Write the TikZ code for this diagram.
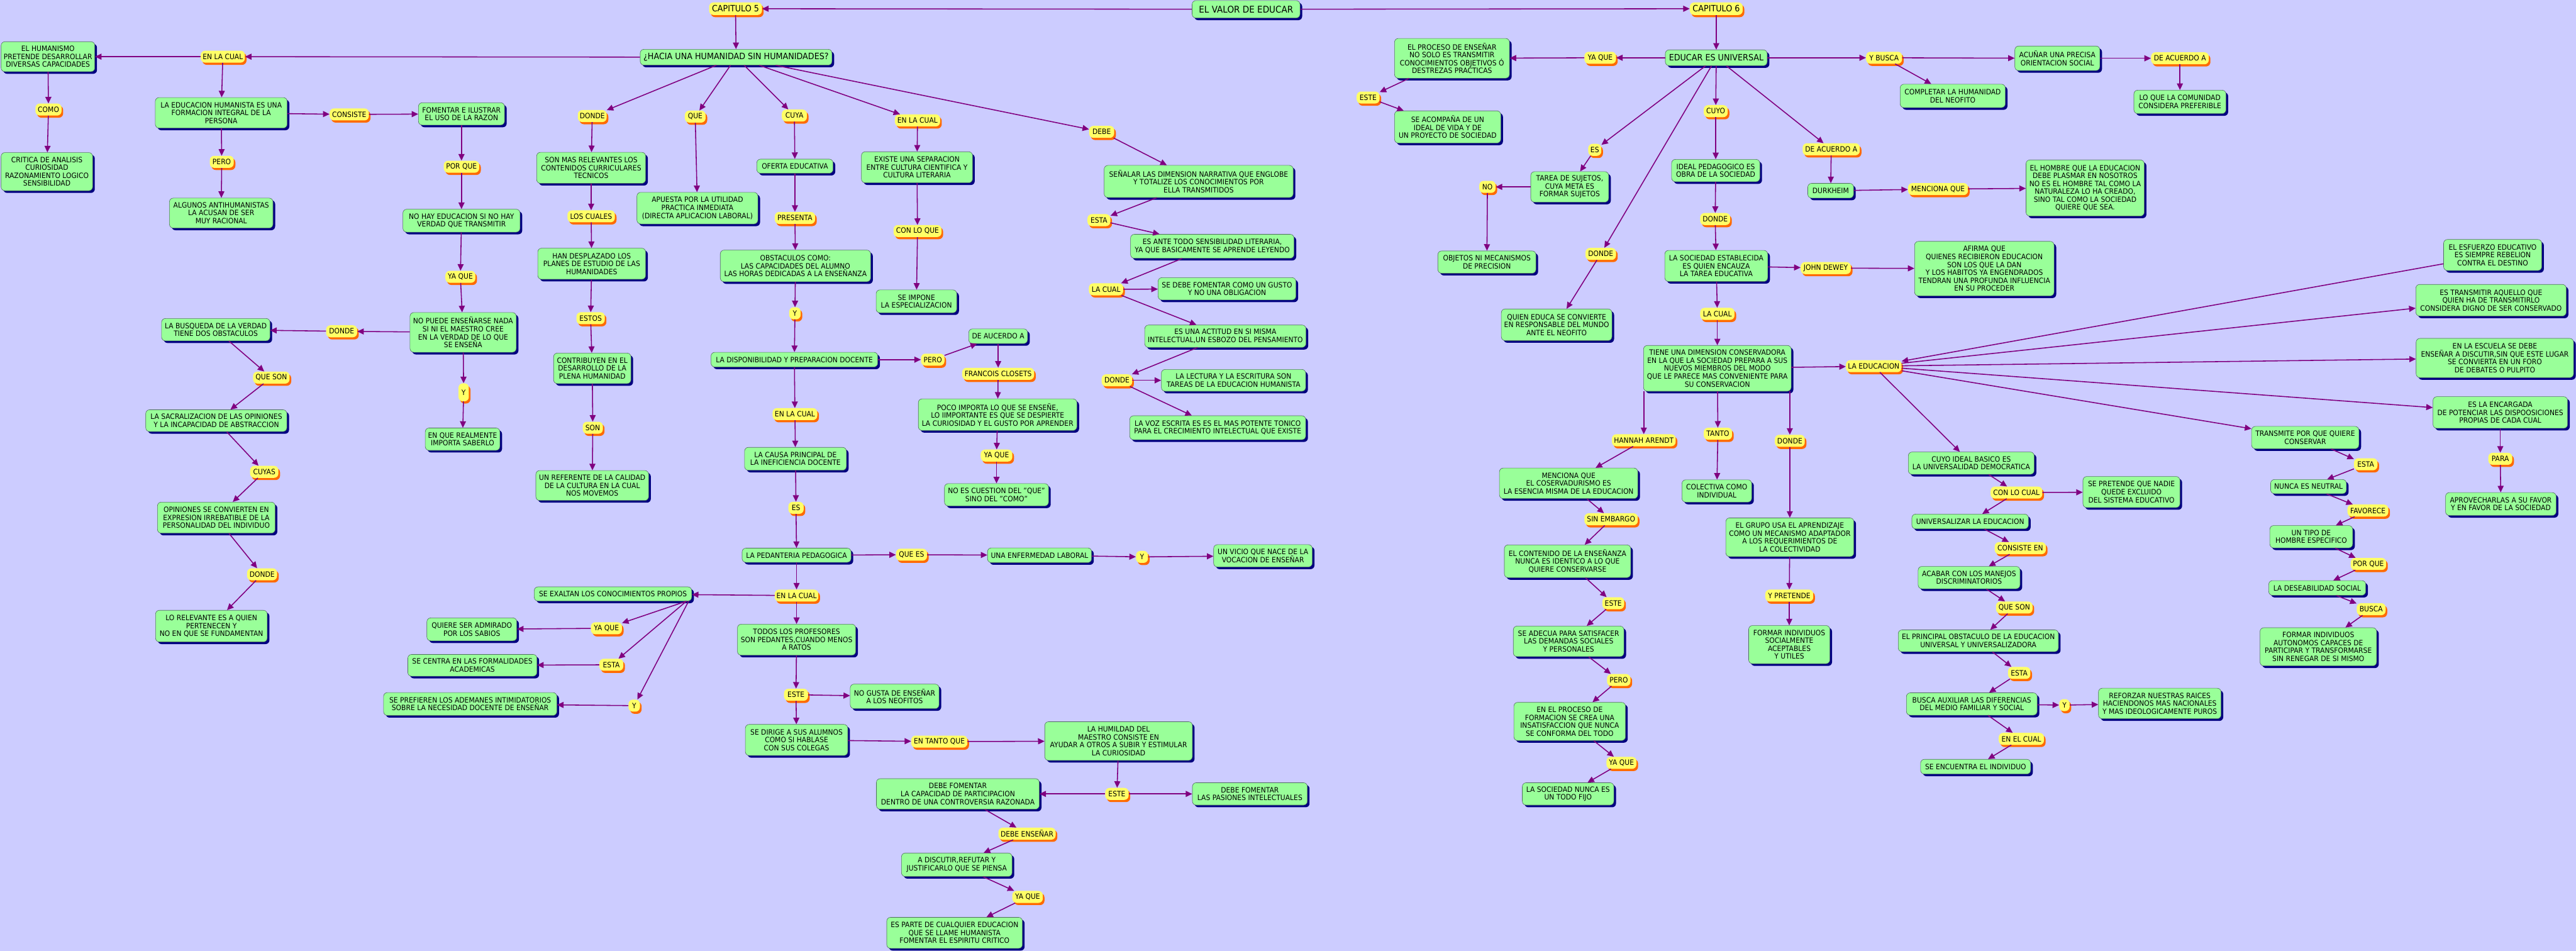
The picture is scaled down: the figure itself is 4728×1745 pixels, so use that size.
\documentclass[tikz,border=0pt]{standalone}
\usepackage{fontspec}
\setmainfont[FakeStretch=0.92]{DejaVu Sans}
\usetikzlibrary{arrows.meta,shadows}
\definecolor{bgc}{HTML}{CCCCFF}
\definecolor{greenc}{HTML}{99FF99}
\definecolor{yellc}{HTML}{FFFF66}
\definecolor{orangec}{HTML}{FF6A00}
\definecolor{navyc}{HTML}{000080}
\definecolor{purplec}{HTML}{800080}
\definecolor{bordc}{HTML}{4F6F5F}
\tikzset{
 cbox/.style={draw=bordc, line width=0.7pt, fill=greenc, rounded corners=7pt, align=center,
   inner xsep=3pt, inner ysep=2pt, font=\fontsize{13.5}{14.5}\selectfont,
   drop shadow={shadow xshift=4pt, shadow yshift=-4pt, fill=navyc, opacity=1, draw=none}},
 lbl/.style={fill=yellc, draw=none, rounded corners=8pt, align=center, inner xsep=3pt, inner ysep=2pt,
   minimum height=22pt, font=\fontsize{13.5}{14.5}\selectfont,
   drop shadow={shadow xshift=3pt, shadow yshift=-4pt, fill=orangec, opacity=1, draw=none}},
 bigf/.style={font=\fontsize{16}{17}\selectfont},
 conn/.style={draw=purplec, line width=1.8pt, -{Triangle[length=12pt,width=11pt]}},
}
\newcommand\mkc[5]{\node[cbox,minimum width=#3pt,minimum height=#4pt] (#1) at (#2) {#5};}
\newcommand\mkl[4]{\node[lbl,minimum width=#3pt] (#1) at (#2) {#4};}
\newcommand\lk[2]{\draw[conn] (#1) -- (#2);}
\begin{document}
\begin{tikzpicture}[x=1pt,y=-1pt]
\useasboundingbox (0,0) rectangle (4728,1745);
\fill[bgc] (0,0) rectangle (4728,1745);

% ---- top ----
\node[cbox,font=\fontsize{17}{18}\selectfont,minimum width=198pt,minimum height=32pt] (valor) at (2287,17) {EL VALOR DE EDUCAR};
\node[cbox,bigf,minimum width=352pt,minimum height=29pt] (hacia) at (1351,105) {¿HACIA UNA HUMANIDAD SIN HUMANIDADES?};
\node[cbox,bigf,minimum width=187pt,minimum height=29pt] (educar) at (3150,106) {EDUCAR ES UNIVERSAL};
\node[lbl,bigf,minimum width=97pt,minimum height=23pt] (cap5) at (1350,16) {CAPITULO 5};
\node[lbl,bigf,minimum width=97pt,minimum height=23pt] (cap6) at (3150,16) {CAPITULO 6};

% ---- chapter 5 left ----
\mkc{humanismo}{88,104}{172}{55}{EL HUMANISMO\\PRETENDE DESARROLLAR\\DIVERSAS CAPACIDADES}
\mkc{critica}{86,315}{168}{70}{CRITICA DE ANALISIS\\CURIOSIDAD\\RAZONAMIENTO LOGICO\\SENSIBILIDAD}
\mkc{eduhum}{406,207}{242}{56}{LA EDUCACION HUMANISTA ES UNA\\FORMACION INTEGRAL DE LA\\PERSONA}
\mkc{fomentar}{847,209}{158}{41}{FOMENTAR E ILUSTRAR\\EL USO DE LA RAZON}
\mkc{algunos}{406,391}{190}{55}{ALGUNOS ANTIHUMANISTAS\\LA ACUSAN DE SER\\MUY RACIONAL}
\mkc{nohay}{847,405}{215}{42}{NO HAY EDUCACION SI NO HAY\\VERDAD QUE TRANSMITIR}
\mkc{nopuede}{850,610}{195}{73}{NO PUEDE ENSEÑARSE NADA\\SI NI EL MAESTRO  CREE\\EN LA VERDAD DE LO QUE\\SE ENSEÑA}
\mkc{busqueda}{396,605}{199}{41}{LA BUSQUEDA DE LA VERDAD\\TIENE DOS OBSTACULOS}
\mkc{sacral}{397,772}{259}{40}{LA SACRALIZACION DE LAS OPINIONES\\Y LA INCAPACIDAD DE ABSTRACCION}
\mkc{opiniones}{397,950}{216}{57}{OPINIONES SE CONVIERTEN EN\\EXPRESION IRREBATIBLE DE LA\\PERSONALIDAD DEL INDIVIDUO}
\mkc{relevante}{388,1149}{205}{58}{LO RELEVANTE ES A QUIEN\\PERTENECEN Y\\NO EN QUE SE FUNDAMENTAN}
\mkc{enque}{849,806}{137}{41}{EN QUE REALMENTE\\IMPORTA SABERLO}
\mkc{sonmas}{1085,308}{200}{57}{SON MAS RELEVANTES LOS\\CONTENIDOS CURRICULARES\\TECNICOS}
\mkc{handesp}{1086,484}{198}{57}{HAN DESPLAZADO LOS\\PLANES DE ESTUDIO DE LAS\\HUMANIDADES}
\mkc{contrib}{1087,676}{142}{56}{CONTRIBUYEN EN EL\\DESARROLLO DE LA\\PLENA HUMANIDAD}
\mkc{referente}{1087,891}{207}{55}{UN REFERENTE DE LA CALIDAD\\DE LA CULTURA EN LA CUAL\\NOS MOVEMOS}
\mkc{apuesta}{1280,382}{222}{58}{APUESTA POR LA UTILIDAD\\PRACTICA INMEDIATA\\(DIRECTA APLICACION LABORAL)}
\mkc{oferta}{1459,305}{140}{26}{OFERTA EDUCATIVA}
\mkc{obstaculos}{1460,488}{276}{58}{OBSTACULOS COMO:\\LAS CAPACIDADES DEL ALUMNO\\LAS HORAS DEDICADAS A LA ENSEÑANZA}
\mkc{disponib}{1458,660}{306}{27}{LA DISPONIBILIDAD Y PREPARACION DOCENTE}
\mkc{existe}{1683,307}{204}{57}{EXISTE UNA SEPARACION\\ENTRE CULTURA CIENTIFICA Y\\CULTURA LITERARIA}
\mkc{impone}{1682,553}{148}{42}{SE IMPONE\\LA ESPECIALIZACION}
\mkc{deaucerdo}{1832,617}{108}{27}{DE AUCERDO A}
\mkc{poco}{1831,761}{291}{58}{POCO IMPORTA LO QUE SE ENSEÑE,\\LO IIMPORTANTE ES QUE SE DESPIERTE\\LA CURIOSIDAD Y EL GUSTO POR APRENDER}
\mkc{noes}{1829,908}{191}{41}{NO ES CUESTION DEL "QUE"\\SINO DEL "COMO"}
\mkc{causa}{1460,842}{187}{42}{LA CAUSA PRINCIPAL DE\\LA INEFICIENCIA DOCENTE}
\mkc{pedant}{1462,1019}{200}{26}{LA PEDANTERIA PEDAGOGICA}
\mkc{enfermedad}{1908,1019}{191}{27}{UNA ENFERMEDAD LABORAL}
\mkc{vicio}{2318,1020}{181}{41}{UN VICIO QUE NACE DE LA\\VOCACION DE ENSEÑAR}
\mkc{exaltan}{1125,1090}{289}{26}{SE EXALTAN LOS CONOCIMIENTOS PROPIOS}
\mkc{admirado}{866,1155}{165}{42}{QUIERE SER ADMIRADO\\POR LOS SABIOS}
\mkc{centra}{867,1221}{237}{40}{SE CENTRA EN LAS FORMALIDADES\\ACADEMICAS}
\mkc{prefieren}{863,1292}{318}{42}{SE PREFIEREN LOS ADEMANES INTIMIDATORIOS\\SOBRE LA NECESIDAD DOCENTE DE ENSEÑAR}
\mkc{todos}{1462,1174}{217}{57}{TODOS LOS PROFESORES\\SON PEDANTES,CUANDO MENOS\\A RATOS}
\mkc{nogusta}{1642,1278}{163}{45}{NO GUSTA DE ENSEÑAR\\A LOS NEOFITOS}
\mkc{dirige}{1462,1358}{188}{57}{SE DIRIGE A SUS ALUMNOS\\COMO SI HABLASE\\CON SUS COLEGAS}
\mkc{humildad}{2053,1360}{271}{71}{LA HUMILDAD DEL\\MAESTRO CONSISTE EN\\AYUDAR A OTROS A SUBIR Y ESTIMULAR\\LA CURIOSIDAD}
\mkc{capacidad}{1758,1457}{299}{56}{DEBE FOMENTAR\\LA CAPACIDAD DE PARTICIPACION\\DENTRO DE UNA CONTROVERSIA  RAZONADA}
\mkc{pasiones}{2294,1457}{211}{41}{DEBE FOMENTAR\\LAS PASIONES INTELECTUALES}
\mkc{discutir}{1756,1587}{203}{43}{A DISCUTIR,REFUTAR Y\\JUSTIFICARLO QUE SE PIENSA}
\mkc{esparte}{1752,1712}{249}{57}{ES PARTE DE CUALQUIER EDUCACION\\QUE SE LLAME HUMANISTA\\FOMENTAR EL ESPIRITU CRITICO}
\mkc{senalar}{2200,333}{347}{59}{SEÑALAR LAS DIMENSION NARRATIVA QUE ENGLOBE\\Y TOTALIZE LOS CONOCIMIENTOS POR\\ELLA TRANSMITIDOS}
\mkc{antetodo}{2225,452}{300}{44}{ES ANTE TODO SENSIBILIDAD LITERARIA,\\YA QUE BASICAMENTE SE APRENDE LEYENDO}
\mkc{gusto}{2252,530}{253}{41}{SE DEBE FOMENTAR COMO UN GUSTO\\Y NO UNA OBLIGACION}
\mkc{actitud}{2249,617}{296}{41}{ES UNA ACTITUD EN SI MISMA\\INTELECTUAL,UN ESBOZO DEL PENSAMIENTO}
\mkc{lectura}{2264,698}{265}{40}{LA LECTURA Y LA ESCRITURA SON\\TAREAS DE LA EDUCACION HUMANISTA}
\mkc{voz}{2235,785}{323}{44}{LA VOZ ESCRITA ES ES EL MAS POTENTE TONICO\\PARA EL CRECIMIENTO INTELECTUAL QUE EXISTE}

% ---- chapter 6 ----
\mkc{proceso}{2665,107}{211}{73}{EL PROCESO DE ENSEÑAR\\NO SOLO ES TRANSMITIR\\CONOCIMIENTOS OBJETIVOS Ó\\DESTREZAS PRACTICAS}
\mkc{acompana}{2657,233}{195}{59}{SE ACOMPAÑA DE UN\\IDEAL DE VIDA Y DE\\UN PROYECTO DE SOCIEDAD}
\mkc{tarea}{2881,343}{143}{56}{TAREA DE SUJETOS,\\CUYA META ES\\FORMAR SUJETOS}
\mkc{objetos}{2729,481}{180}{41}{OBJETOS NI MECANISMOS\\DE PRECISION}
\mkc{quien}{2857,596}{203}{58}{QUIEN EDUCA SE CONVIERTE\\EN RESPONSABLE DEL MUNDO\\ANTE EL NEOFITO}
\mkc{ideal}{3149,313}{162}{41}{IDEAL PEDAGOGICO ES\\OBRA DE LA SOCIEDAD}
\mkc{durkheim}{3360,350}{84}{27}{DURKHEIM}
\mkc{sociedad}{3150,488}{189}{57}{LA SOCIEDAD ESTABLECIDA\\ES QUIEN ENCAUZA\\LA TAREA EDUCATIVA}
\mkc{tiene}{3152,676}{271}{84}{TIENE UNA DIMENSION CONSERVADORA\\EN LA QUE LA SOCIEDAD PREPARA A SUS\\NUEVOS MIEMBROS DEL MODO\\QUE LE PARECE MAS CONVENIENTE PARA\\SU CONSERVACION}
\mkc{menciona}{2879,887}{254}{56}{MENCIONA QUE\\EL COSERVADURISMO ES\\LA ESENCIA MISMA DE LA EDUCACION}
\mkc{colectiva}{3151,901}{128}{41}{COLECTIVA COMO\\INDIVIDUAL}
\mkc{grupo}{3285,986}{235}{71}{EL GRUPO USA EL APRENDIZAJE\\COMO UN MECANISMO ADAPTADOR\\A LOS REQUERIMIENTOS DE\\LA COLECTIVIDAD}
\mkc{contenido}{2877,1030}{232}{60}{EL CONTENIDO DE LA ENSEÑANZA\\NUNCA ES IDENTICO A LO QUE\\QUIERE CONSERVARSE}
\mkc{adecua}{2879,1177}{203}{56}{SE ADECUA PARA SATISFACER\\LAS DEMANDAS SOCIALES\\Y PERSONALES}
\mkc{formarsoc}{3284,1183}{149}{70}{FORMAR INDIVIDUOS\\SOCIALMENTE\\ACEPTABLES\\Y UTILES}
\mkc{enproceso}{2881,1324}{205}{70}{EN EL PROCESO DE\\FORMACION SE CREA UNA\\INSATISFACCION QUE NUNCA\\SE CONFORMA DEL TODO}
\mkc{nunca}{2878,1457}{168}{41}{LA SOCIEDAD NUNCA ES\\UN TODO FIJO}
\mkc{acunar}{3776,107}{156}{45}{ACUÑAR UNA PRECISA\\ORIENTACION SOCIAL}
\mkc{completar}{3584,176}{193}{43}{COMPLETAR LA HUMANIDAD\\DEL NEOFITO}
\mkc{loque}{4001,187}{169}{43}{LO QUE LA COMUNIDAD\\CONSIDERA PREFERIBLE}
\mkc{hombre}{3827,345}{217}{103}{EL HOMBRE QUE LA EDUCACION\\DEBE PLASMAR EN NOSOTROS\\NO ES EL HOMBRE TAL COMO LA\\NATURALEZA LO HA CREADO,\\SINO TAL COMO LA SOCIEDAD\\QUIERE QUE SEA.}
\mkc{afirma}{3642,493}{256}{100}{AFIRMA QUE\\QUIENES RECIBIERON EDUCACION\\SON LOS QUE LA DAN\\Y LOS HABITOS YA ENGENDRADOS\\TENDRAN UNA PROFUNDA INFLUENCIA\\EN SU PROCEDER}
\mkc{esfuerzo}{4575,468}{180}{57}{EL ESFUERZO EDUCATIVO\\ES SIEMPRE REBELION\\CONTRA EL DESTINO}
\mkc{transmitir}{4572,551}{276}{58}{ES TRANSMITIR AQUELLO QUE\\QUIEN HA DE TRANSMITIRLO\\CONSIDERA DIGNO DE SER CONSERVADO}
\mkc{escuela}{4579,657}{289}{72}{EN LA ESCUELA SE DEBE\\ENSEÑAR A DISCUTIR,SIN QUE ESTE LUGAR\\SE CONVIERTA EN UN FORO\\DE DEBATES O PULPITO}
\mkc{encargada}{4589,757}{247}{58}{ES LA ENCARGADA\\DE POTENCIAR LAS DISPOOSICIONES\\PROPIAS DE CADA CUAL}
\mkc{transmite}{4231,803}{197}{41}{TRANSMITE POR QUE QUIERE\\CONSERVAR}
\mkc{aprovechar}{4590,925}{203}{42}{APROVECHARLAS A SU FAVOR\\Y EN FAVOR  DE LA SOCIEDAD}
\mkc{cuyoideal}{3618,850}{231}{41}{CUYO IDEAL BASICO ES\\LA UNIVERSALIDAD DEMOCRATICA}
\mkc{pretende}{3912,903}{178}{57}{SE PRETENDE QUE NADIE\\QUEDE EXCLUIDO\\DEL SISTEMA EDUCATIVO}
\mkc{nuncaneutral}{4237,893}{139}{26}{NUNCA ES NEUTRAL}
\mkc{universalizar}{3616,957}{214}{27}{UNIVERSALIZAR LA EDUCACION}
\mkc{tipo}{4242,985}{152}{41}{UN TIPO DE\\HOMBRE ESPECIFICO}
\mkc{acabar}{3614,1060}{187}{41}{ACABAR CON LOS MANEJOS\\DISCRIMINATORIOS}
\mkc{deseab}{4253,1079}{178}{27}{LA DESEABILIDAD SOCIAL}
\mkc{principal}{3631,1176}{294}{40}{EL PRINCIPAL OBSTACULO DE LA EDUCACION\\UNIVERSAL  Y UNIVERSALIZADORA}
\mkc{buscaaux}{3619,1292}{240}{41}{BUSCA AUXILIAR LAS DIFERENCIAS\\DEL MEDIO FAMILIAR Y SOCIAL}
\mkc{reforzar}{3964,1291}{225}{56}{REFORZAR NUESTRAS RAICES\\HACIENDONOS MAS NACIONALES\\Y MAS IDEOLOGICAMENTE PUROS}
\mkc{encuentra}{3626,1407}{202}{27}{SE ENCUENTRA EL INDIVIDUO}
\mkc{formaraut}{4255,1187}{214}{70}{FORMAR INDIVIDUOS\\AUTONOMOS CAPACES DE\\PARTICIPAR Y TRANSFORMARSE\\SIN RENEGAR DE SI MISMO}

% ---- linking phrases ----
\mkl{enlacual1}{409,104}{81}{EN LA CUAL}
\mkl{como}{89,201}{48}{COMO}
\mkl{consiste}{641,210}{72}{CONSISTE}
\mkl{pero1}{407,297}{44}{PERO}
\mkl{porque1}{847,306}{65}{POR QUE}
\mkl{yaque1}{845,508}{55}{YA QUE}
\mkl{donde1}{627,608}{57}{DONDE}
\mkl{queson1}{498,693}{67}{QUE SON}
\node[lbl,minimum width=19pt,minimum height=33pt,inner xsep=1pt] (y1) at (851,720) {Y};
\mkl{cuyas}{485,866}{52}{CUYAS}
\mkl{donde2}{481,1054}{55}{DONDE}
\mkl{dondeH}{1087,213}{53}{DONDE}
\mkl{loscuales}{1085,397}{87}{LOS CUALES}
\mkl{estos}{1084,584}{52}{ESTOS}
\mkl{son}{1088,785}{37}{SON}
\mkl{que}{1276,214}{38}{QUE}
\mkl{cuya}{1458,212}{46}{CUYA}
\mkl{presenta}{1459,400}{74}{PRESENTA}
\node[lbl,minimum width=21pt,inner xsep=1pt] (yO) at (1459,575) {Y};
\mkl{enlacualS}{1684,221}{83}{EN LA CUAL}
\mkl{conloque}{1684,424}{88}{CON LO QUE}
\mkl{debe}{2022,242}{46}{DEBE}
\mkl{esta1}{2017,404}{42}{ESTA}
\mkl{lacual1}{2030,531}{63}{LA CUAL}
\mkl{dondeL}{2050,698}{56}{DONDE}
\mkl{pero2}{1712,660}{43}{PERO}
\mkl{francois}{1832,686}{132}{FRANCOIS CLOSETS}
\mkl{yaque2}{1829,836}{58}{YA QUE}
\mkl{enlacual2}{1459,760}{82}{EN LA CUAL}
\mkl{es1}{1461,932}{28}{ES}
\mkl{quees}{1673,1018}{57}{QUE ES}
\node[lbl,minimum width=22pt,inner xsep=1pt] (yV) at (2096,1022) {Y};
\mkl{enlacual3}{1462,1093}{80}{EN LA CUAL}
\mkl{yaque3}{1113,1153}{57}{YA QUE}
\mkl{esta2}{1122,1220}{44}{ESTA}
\node[lbl,minimum width=21pt,inner xsep=1pt] (yP) at (1164,1295) {Y};
\mkl{este1}{1461,1275}{44}{ESTE}
\mkl{entanto}{1724,1361}{103}{EN TANTO QUE}
\mkl{este2}{2050,1457}{43}{ESTE}
\mkl{debeense}{1885,1530}{105}{DEBE ENSEÑAR}
\mkl{yaque4}{1886,1646}{56}{YA QUE}
\mkl{yaque5}{2937,106}{58}{YA QUE}
\mkl{este3}{2511,179}{42}{ESTE}
\mkl{es2}{2927,275}{24}{ES}
\mkl{no}{2730,343}{30}{NO}
\mkl{donde3}{2938,466}{56}{DONDE}
\mkl{cuyo}{3149,204}{44}{CUYO}
\mkl{deacuerdo1}{3361,274}{105}{DE ACUERDO A}
\mkl{donde4}{3148,402}{55}{DONDE}
\mkl{johndewey}{3351,492}{92}{JOHN DEWEY}
\mkl{lacual2}{3152,576}{63}{LA CUAL}
\mkl{ybusca}{3458,106}{66}{Y BUSCA}
\mkl{deacuerdo2}{4001,107}{106}{DE ACUERDO A}
\mkl{menciona2}{3557,347}{110}{MENCIONA QUE}
\mkl{laeducacion}{3439,672}{102}{LA EDUCACION}
\mkl{hannah}{3017,808}{117}{HANNAH ARENDT}
\mkl{tanto}{3153,796}{52}{TANTO}
\mkl{donde5}{3285,809}{55}{DONDE}
\mkl{sinembargo}{2957,953}{98}{SIN EMBARGO}
\mkl{este4}{2961,1107}{40}{ESTE}
\mkl{ypretende}{3284,1093}{88}{Y PRETENDE}
\mkl{pero3}{2971,1248}{43}{PERO}
\mkl{yaque6}{2976,1400}{55}{YA QUE}
\mkl{para}{4589,842}{44}{PARA}
\mkl{esta3}{4342,852}{43}{ESTA}
\mkl{conlocual}{3701,904}{95}{CON LO CUAL}
\mkl{favorece}{4346,937}{75}{FAVORECE}
\mkl{consisteen}{3708,1006}{94}{CONSISTE EN}
\mkl{porque2}{4347,1035}{65}{POR QUE}
\mkl{queson2}{3697,1115}{67}{QUE SON}
\mkl{busca}{4352,1118}{53}{BUSCA}
\mkl{esta4}{3706,1235}{41}{ESTA}
\node[lbl,minimum width=19pt,inner xsep=1pt] (yR) at (3789,1294) {Y};
\mkl{enelcual}{3710,1356}{83}{EN EL CUAL}

% ---- connectors ----
\lk{valor}{cap5}\lk{valor}{cap6}\lk{cap5}{hacia}\lk{cap6}{educar}
\lk{hacia}{enlacual1}\lk{enlacual1}{humanismo}\lk{enlacual1}{eduhum}
\lk{humanismo}{como}\lk{como}{critica}
\lk{eduhum}{consiste}\lk{consiste}{fomentar}\lk{eduhum}{pero1}\lk{pero1}{algunos}
\lk{fomentar}{porque1}\lk{porque1}{nohay}\lk{nohay}{yaque1}\lk{yaque1}{nopuede}
\lk{nopuede}{donde1}\lk{donde1}{busqueda}\lk{busqueda}{queson1}\lk{queson1}{sacral}
\lk{sacral}{cuyas}\lk{cuyas}{opiniones}\lk{opiniones}{donde2}\lk{donde2}{relevante}
\lk{nopuede}{y1}\lk{y1}{enque}
\lk{hacia}{dondeH}\lk{dondeH}{sonmas}\lk{sonmas}{loscuales}\lk{loscuales}{handesp}
\lk{handesp}{estos}\lk{estos}{contrib}\lk{contrib}{son}\lk{son}{referente}
\lk{hacia}{que}\lk{que}{apuesta}
\lk{hacia}{cuya}\lk{cuya}{oferta}\lk{oferta}{presenta}\lk{presenta}{obstaculos}
\lk{obstaculos}{yO}\lk{yO}{disponib}\lk{disponib}{pero2}\lk{pero2}{deaucerdo}
\lk{deaucerdo}{francois}\lk{francois}{poco}\lk{poco}{yaque2}\lk{yaque2}{noes}
\lk{disponib}{enlacual2}\lk{enlacual2}{causa}\lk{causa}{es1}\lk{es1}{pedant}
\lk{pedant}{quees}\lk{quees}{enfermedad}\lk{enfermedad}{yV}\lk{yV}{vicio}
\lk{pedant}{enlacual3}\lk{enlacual3}{exaltan}\lk{enlacual3}{todos}
\draw[conn] ([xshift=-10pt]exaltan.south east) -- (yaque3);
\draw[conn] ([xshift=-10pt]exaltan.south east) -- (esta2);
\draw[conn] ([xshift=-6pt]exaltan.south east) -- (yP);
\lk{yaque3}{admirado}\lk{esta2}{centra}\lk{yP}{prefieren}
\lk{todos}{este1}\lk{este1}{nogusta}\lk{este1}{dirige}\lk{dirige}{entanto}
\lk{entanto}{humildad}\lk{humildad}{este2}\lk{este2}{capacidad}\lk{este2}{pasiones}
\lk{capacidad}{debeense}\lk{debeense}{discutir}\lk{discutir}{yaque4}\lk{yaque4}{esparte}
\lk{hacia}{enlacualS}\lk{enlacualS}{existe}\lk{existe}{conloque}\lk{conloque}{impone}
\lk{hacia}{debe}\lk{debe}{senalar}\lk{senalar}{esta1}\lk{esta1}{antetodo}
\lk{antetodo}{lacual1}\lk{lacual1}{gusto}\lk{lacual1}{actitud}\lk{actitud}{dondeL}
\lk{dondeL}{lectura}\lk{dondeL}{voz}
\lk{educar}{yaque5}\lk{yaque5}{proceso}\lk{proceso}{este3}\lk{este3}{acompana}
\lk{educar}{es2}\lk{es2}{tarea}\lk{tarea}{no}\lk{no}{objetos}
\lk{educar}{donde3}\lk{donde3}{quien}
\lk{educar}{cuyo}\lk{cuyo}{ideal}\lk{ideal}{donde4}\lk{donde4}{sociedad}
\lk{sociedad}{johndewey}\lk{johndewey}{afirma}\lk{sociedad}{lacual2}\lk{lacual2}{tiene}
\lk{educar}{deacuerdo1}\lk{deacuerdo1}{durkheim}\lk{durkheim}{menciona2}\lk{menciona2}{hombre}
\lk{educar}{ybusca}\lk{ybusca}{acunar}\lk{acunar}{deacuerdo2}\lk{deacuerdo2}{loque}
\lk{ybusca}{completar}
\lk{tiene}{laeducacion}
\draw[conn] (hannah |- tiene.south) -- (hannah);
\lk{hannah}{menciona}\lk{menciona}{sinembargo}\lk{sinembargo}{contenido}
\lk{contenido}{este4}\lk{este4}{adecua}\lk{adecua}{pero3}\lk{pero3}{enproceso}
\lk{enproceso}{yaque6}\lk{yaque6}{nunca}
\lk{tiene}{tanto}\lk{tanto}{colectiva}
\draw[conn] (donde5 |- tiene.south) -- (donde5);
\lk{donde5}{grupo}\lk{grupo}{ypretende}\lk{ypretende}{formarsoc}
\lk{esfuerzo}{laeducacion}\lk{laeducacion}{transmitir}\lk{laeducacion}{escuela}
\lk{laeducacion}{encargada}\lk{laeducacion}{transmite}\lk{laeducacion}{cuyoideal}
\lk{encargada}{para}\lk{para}{aprovechar}
\lk{transmite}{esta3}\lk{esta3}{nuncaneutral}\lk{nuncaneutral}{favorece}\lk{favorece}{tipo}
\lk{tipo}{porque2}\lk{porque2}{deseab}\lk{deseab}{busca}\lk{busca}{formaraut}
\lk{cuyoideal}{conlocual}\lk{conlocual}{pretende}\lk{conlocual}{universalizar}
\lk{universalizar}{consisteen}\lk{consisteen}{acabar}\lk{acabar}{queson2}
\lk{queson2}{principal}\lk{principal}{esta4}\lk{esta4}{buscaaux}
\lk{buscaaux}{yR}\lk{yR}{reforzar}\lk{buscaaux}{enelcual}\lk{enelcual}{encuentra}
\end{tikzpicture}
\end{document}
